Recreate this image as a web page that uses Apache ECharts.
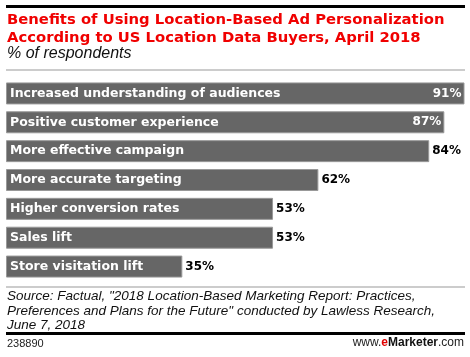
<!DOCTYPE html>
<html><head><meta charset="utf-8">
<script src="https://cdn.jsdelivr.net/npm/echarts@6/dist/echarts.min.js"></script>
<style>html,body{margin:0;padding:0;background:#fff}#c{width:470px;height:357px}</style>
</head><body><div id="c"></div>
<script>
const categories = ["Increased understanding of audiences","Positive customer experience","More effective campaign","More accurate targeting","Higher conversion rates","Sales lift","Store visitation lift"];
const values = [91,87,84,62,53,53,35];
const insideValue = [true,true,false,false,false,false,false];

const F = '"Liberation Sans", Arial, sans-serif';
const D = '"DejaVu Sans", Verdana, sans-serif';
const chart = echarts.init(document.getElementById('c'));
chart.setOption({
  animation:false,
  grid:{left:6, top:79, width:460, height:202},
  xAxis:{type:'value', min:0, max:91.3, show:false},
  yAxis:{type:'category', data:categories, inverse:true, show:false},
  series:[
    {type:'bar', data:values, barWidth:22, itemStyle:{color:'#666666', borderColor:'#999999', borderWidth:1},
     label:{show:true, position:'insideLeft', distance:4, formatter:'{b}', color:'#fff', fontFamily:D, fontWeight:'bold', fontSize:12.5}},
    {type:'bar', barGap:'-100%', barWidth:22, itemStyle:{color:'rgba(0,0,0,0)'}, z:3,
     data: values.map((v,i)=>({value:v, label: insideValue[i]
        ? {position:'insideRight', color:'#fff', distance:3}
        : {position:'right', color:'#000', distance:3}})),
     label:{show:true, formatter:'{c}%', fontFamily:D, fontWeight:'bold', fontSize:12}}
  ],
  graphic:[
    {type:'rect', shape:{x:6,y:5,width:459,height:3}, style:{fill:'#000'}},
    {type:'text', left:7, top:11, style:{text:'Benefits of Using Location-Based Ad Personalization\nAccording to US Location Data Buyers, April 2018', fill:'#f00000', font:'bold 14.8px '+D, lineHeight:18}},
    {type:'text', left:7, top:46, style:{text:'% of respondents', fill:'#111', font:'italic 16px '+F}},
    {type:'rect', shape:{x:6,y:69.5,width:459,height:1}, style:{fill:'#999'}},
    {type:'rect', shape:{x:6,y:286.5,width:459,height:1}, style:{fill:'#999'}},
    {type:'text', left:7, top:289, style:{text:'Source: Factual, "2018 Location-Based Marketing Report: Practices,\nPreferences and Plans for the Future" conducted by Lawless Research,\nJune 7, 2018', fill:'#111', font:'italic 13.5px '+F, lineHeight:14.5}},
    {type:'rect', shape:{x:6,y:332,width:459,height:3}, style:{fill:'#000'}},
    {type:'text', left:7, top:338, style:{text:'238890', fill:'#222', font:'11px '+F}},
    {type:'text', right:6, top:337, style:{text:'{a|www.}{e|e}{m|Marketer}{a|.com}', font:'12px '+F,
      rich:{a:{fill:'#222', font:'12px '+F}, e:{fill:'#e00000', font:'bold 12px '+F}, m:{fill:'#111', font:'bold 12px '+F}}}}
  ]
});
</script></body></html>
